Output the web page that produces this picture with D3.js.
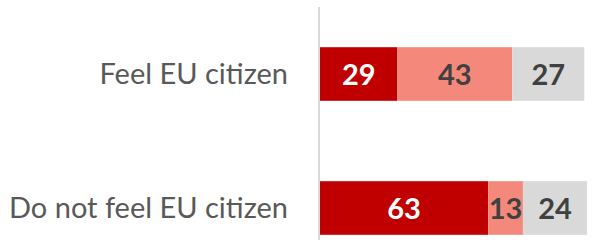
<!DOCTYPE html>
<html><head><meta charset="utf-8">
<script src="https://cdn.jsdelivr.net/npm/d3@7"></script>
<style>html,body{margin:0;padding:0;background:#fff;}svg{display:block;}</style>
</head><body>
<svg id="chart" width="592" height="240"></svg>
<script>
const categories = ["Feel EU citizen", "Do not feel EU citizen"];
const seriesNames = ["Yes", "Partly", "No"];
const seriesA = [29, 63];
const seriesB = [43, 13];
const seriesC = [27, 24];
const colors = ["#C00000", "#F4897B", "#D9D9D9"];
const textColors = ["#FFFFFF", "#404040", "#404040"];

const svg = d3.select("#chart");
const x = d3.scaleLinear().domain([0, 100]).range([320, 587]);
const y = d3.scaleBand().domain(categories).range([7, 275]).paddingInner(0.6).paddingOuter(0.3);

const rows = categories.map((c, i) => ({cat: c, vals: [seriesA[i], seriesB[i], seriesC[i]]}));
const stacked = d3.stack().keys([0,1,2])(rows.map(r => r.vals));

stacked.forEach((layer, k) => {
  const g = svg.append("g");
  g.selectAll("rect").data(layer).join("rect")
    .attr("x", d => x(d[0]))
    .attr("width", d => x(d[1]) - x(d[0]))
    .attr("y", (d, i) => y(categories[i]))
    .attr("height", y.bandwidth())
    .attr("fill", colors[k]);
  g.selectAll("text").data(layer).join("text")
    .attr("x", d => (x(d[0]) + x(d[1])) / 2)
    .attr("y", (d, i) => y(categories[i]) + y.bandwidth() / 2 + 10.5)
    .attr("text-anchor", "middle")
    .attr("font-family", "Lato, 'Open Sans', sans-serif")
    .attr("font-weight", "bold")
    .attr("font-size", 29)
    .attr("fill", textColors[k])
    .text(d => d[1] - d[0]);
});

svg.append("line")
  .attr("x1", x(0) - 1).attr("x2", x(0) - 1)
  .attr("y1", 7).attr("y2", 240)
  .attr("stroke", "#D9D9D9").attr("stroke-width", 2);

svg.append("g").selectAll("text").data(categories).join("text")
  .attr("x", 288)
  .attr("y", d => y(d) + y.bandwidth() / 2 + 10)
  .attr("text-anchor", "end")
  .attr("font-family", "Lato, 'Open Sans', sans-serif")
  .attr("font-size", 29)
  .attr("fill", "#595959")
  .text(d => d);
</script>
</body></html>
